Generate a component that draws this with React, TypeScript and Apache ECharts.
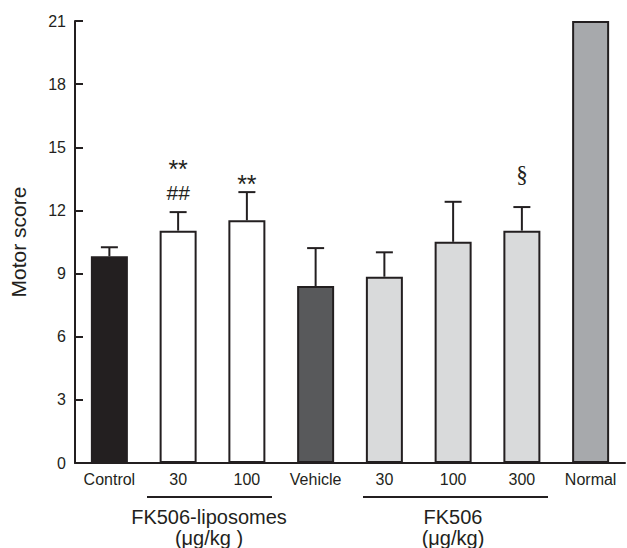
import React, { useEffect, useRef } from "react";
import * as echarts from "echarts";

const categories = ["Control", "30", "100", "Vehicle", "30", "100", "300", "Normal"];
const means = [9.82, 11.04, 11.53, 8.41, 8.85, 10.51, 11.04, 21];
const sems = [0.43, 0.88, 1.34, 1.8, 1.16, 1.9, 1.12, 0];
const barColors = ["#231f20", "#ffffff", "#ffffff", "#58595b", "#d9dadb", "#d9dadb", "#d9dadb", "#a7a9ac"];
const yTicks = { min: 0, max: 21, interval: 3 };
const annotationIdx = [1, 1, 2, 6];
const annotationVal = [14.2, 12.87, 13.5, 13.73];
const annotationText = ["**", "##", "**", "§"];
const groupLabels = ["FK506-liposomes\n(μg/kg )", "FK506\n(μg/kg)"];

const INK = "#231f20";
const FONT = "'Liberation Sans', Arial, sans-serif";

export default function App() {
  const ref = useRef<HTMLDivElement>(null);
  useEffect(() => {
    if (!ref.current) return;
    const chart = echarts.init(ref.current, null, { renderer: "svg" });
    const errData = means.map((m, i) => [i, m, sems[i]]).filter((d) => d[2] > 0);
    const annData = annotationIdx.map((idx, i) => [idx, annotationVal[i], i]);
    chart.setOption({
      animation: false,
      backgroundColor: "#ffffff",
      grid: { left: 72, right: 2, top: 21, bottom: 85, containLabel: false },
      xAxis: {
        type: "category",
        data: categories,
        axisLine: { lineStyle: { color: INK, width: 2 } },
        axisTick: { show: false },
        axisLabel: { color: INK, fontSize: 16, fontFamily: FONT, margin: 8, interval: 0 },
      },
      yAxis: {
        type: "value",
        min: yTicks.min,
        max: yTicks.max,
        interval: yTicks.interval,
        name: "Motor score",
        nameLocation: "middle",
        nameRotate: 90,
        nameGap: 46,
        nameTextStyle: { color: INK, fontSize: 21, fontFamily: FONT },
        axisLine: { show: true, lineStyle: { color: INK, width: 2 } },
        axisTick: { show: true, inside: true, length: 8, lineStyle: { color: INK, width: 2 } },
        axisLabel: { color: INK, fontSize: 16, fontFamily: FONT, margin: 9 },
        splitLine: { show: false },
      },
      series: [
        {
          type: "custom",
          z: 1,
          data: errData,
          renderItem: (params: any, api: any) => {
            const x = api.value(0);
            const m = api.value(1);
            const e = api.value(2);
            const base = api.coord([x, m]);
            const top = api.coord([x, m + e]);
            return {
              type: "group",
              children: [
                { type: "line", shape: { x1: base[0], y1: base[1], x2: top[0], y2: top[1] }, style: { stroke: INK, lineWidth: 2 } },
                { type: "line", shape: { x1: top[0] - 8.5, y1: top[1], x2: top[0] + 8.5, y2: top[1] }, style: { stroke: INK, lineWidth: 2 } },
              ],
            };
          },
        },
        {
          type: "bar",
          z: 2,
          barWidth: 37,
          data: means.map((v, i) => ({
            value: v,
            itemStyle: { color: barColors[i], borderColor: INK, borderWidth: 2 },
          })),
        },
        {
          type: "custom",
          z: 3,
          data: annData,
          renderItem: (params: any, api: any) => {
            const p = api.coord([api.value(0), api.value(1)]);
            const t = annotationText[api.value(2)];
            const serif = t === "§";
            const star = t === "**";
            const size = serif ? 23 : star ? 25 : 21;
            const fam = serif ? "'Liberation Serif', serif" : "'Liberation Sans', sans-serif";
            return {
              type: "text",
              x: p[0],
              y: p[1] + (star ? 5 : 0),
              style: {
                text: t,
                fill: INK,
                font: `${size}px ${fam}`,
                align: "center",
                verticalAlign: "middle",
              },
            };
          },
        },
      ],
      graphic: [
        { type: "line", shape: { x1: 147, y1: 497, x2: 272, y2: 497 }, style: { stroke: INK, lineWidth: 2 } },
        { type: "line", shape: { x1: 363, y1: 497, x2: 548, y2: 497 }, style: { stroke: INK, lineWidth: 2 } },
        { type: "text", x: 209, y: 527, style: { text: groupLabels[0], fill: INK, fontSize: 20, fontFamily: FONT, lineHeight: 21, align: "center", verticalAlign: "middle" } },
        { type: "text", x: 453, y: 527, style: { text: groupLabels[1], fill: INK, fontSize: 20, fontFamily: FONT, lineHeight: 21, align: "center", verticalAlign: "middle" } },
      ],
    });
    return () => chart.dispose();
  }, []);
  return <div ref={ref} style={{ position: "fixed", left: 0, top: 0, width: 627, height: 548 }} />;
}
